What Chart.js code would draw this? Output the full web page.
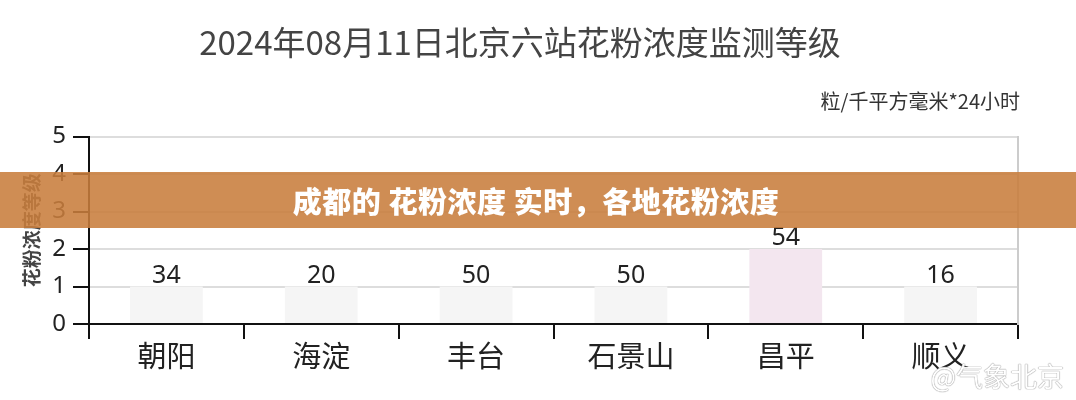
<!DOCTYPE html>
<html>
<head>
<meta charset="utf-8">
<script src="https://cdn.jsdelivr.net/npm/chart.js@4"></script>
<style>
  html, body { margin: 0; padding: 0; background: #fff; }
  #wrap { position: relative; width: 1076px; height: 400px; overflow: hidden; }
  #c { position: absolute; left: 0; top: 0; }
  #banner {
    position: absolute; left: 0; top: 172px; width: 1076px; height: 56px;
    background: rgba(200,125,60,0.88);
    color: #fff; font-family: "Noto Sans CJK SC", sans-serif; font-weight: 900;
    font-size: 29px; line-height: 56px; text-align: center; text-indent: -4px;
    letter-spacing: 0.5px;
  }
  #wm {
    position: absolute; right: 12px; top: 356px;
    font-family: "Noto Sans CJK SC", sans-serif; font-size: 27px; color: #fff;
    text-shadow: 0 0 1px #999, 0 0 1px #999, 0 0 1px #aaa;
    opacity: 0.95;
  }
</style>
</head>
<body>
<div id="wrap">
  <canvas id="c" width="1076" height="400"></canvas>
  <div id="banner">成都的 花粉浓度 实时，各地花粉浓度</div>
  <div id="wm">@气象北京</div>
</div>
<script>
const titleText = "2024年08月11日北京六站花粉浓度监测等级";
const unitText = "粒/千平方毫米*24小时";
const yAxisTitle = "花粉浓度等级";
const categories = ["朝阳", "海淀", "丰台", "石景山", "昌平", "顺义"];
const levels = [1, 1, 1, 1, 2, 1];
const counts = [34, 20, 50, 50, 54, 16];
const barColors = ["#f5f5f5", "#f5f5f5", "#f5f5f5", "#f5f5f5", "#f3e6ef", "#f5f5f5"];
const yTicks = [0, 1, 2, 3, 4, 5];

const FONT = '"Noto Sans CJK SC", "Noto Sans", sans-serif';

const valueLabels = {
  id: 'valueLabels',
  afterDatasetsDraw(chart) {
    const ctx = chart.ctx;
    const meta = chart.getDatasetMeta(0);
    ctx.save();
    ctx.font = '25px "Noto Sans", "DejaVu Sans", sans-serif';
    ctx.fillStyle = '#222';
    ctx.textAlign = 'center';
    ctx.textBaseline = 'alphabetic';
    meta.data.forEach((bar, i) => {
      ctx.fillText(String(counts[i]), bar.x, bar.y - 4);
    });
    ctx.restore();
  }
};

new Chart(document.getElementById('c'), {
  type: 'bar',
  data: {
    labels: categories,
    datasets: [{
      data: levels,
      backgroundColor: barColors,
      borderWidth: 0,
      barPercentage: 0.47,
      categoryPercentage: 1.0
    }]
  },
  options: {
    responsive: false,
    animation: false,
    layout: { padding: { left: 20, right: 56, top: 0, bottom: 0 } },
    plugins: {
      legend: { display: false },
      tooltip: { enabled: false },
      title: {
        display: true, text: titleText, color: '#444',
        font: { family: FONT, size: 33, weight: 'normal' },
        padding: { top: 23, bottom: 24 }
      },
      subtitle: {
        display: true, text: unitText, color: '#333', align: 'end',
        font: { family: FONT, size: 20, weight: 'normal' },
        padding: { top: 3, bottom: 23 }
      }
    },
    scales: {
      x: {
        grid: { display: true, drawOnChartArea: false, drawTicks: true, tickLength: 15, color: '#111', lineWidth: 2 },
        border: { display: true, color: '#111', width: 2 },
        ticks: { color: '#222', font: { family: FONT, size: 29 }, padding: 0 },
        afterFit(scale) { scale.height = 76; }
      },
      y: {
        min: 0, max: 5,
        afterBuildTicks(scale) { scale.ticks = yTicks.map(v => ({ value: v })); },
        grid: { color: '#ddd', lineWidth: 2, drawTicks: true, tickLength: 16, tickColor: '#111', tickWidth: 2 },
        border: { display: true, color: '#111', width: 2 },
        ticks: { color: '#222', font: { family: '"Noto Sans", sans-serif', size: 24 }, padding: 7 },
        title: {
          display: true, text: yAxisTitle, color: '#444',
          font: { family: FONT, size: 19, weight: 'bold' }, padding: 0
        },
        afterFit(scale) { scale.width = 69; }
      },
      y2: {
        position: 'right', min: 0, max: 5,
        grid: { drawOnChartArea: false, drawTicks: false },
        border: { display: true, color: '#ccc', width: 2 },
        ticks: { display: false },
        afterFit(scale) { scale.width = 2; }
      }
    }
  },
  plugins: [valueLabels]
});
</script>
</body>
</html>
